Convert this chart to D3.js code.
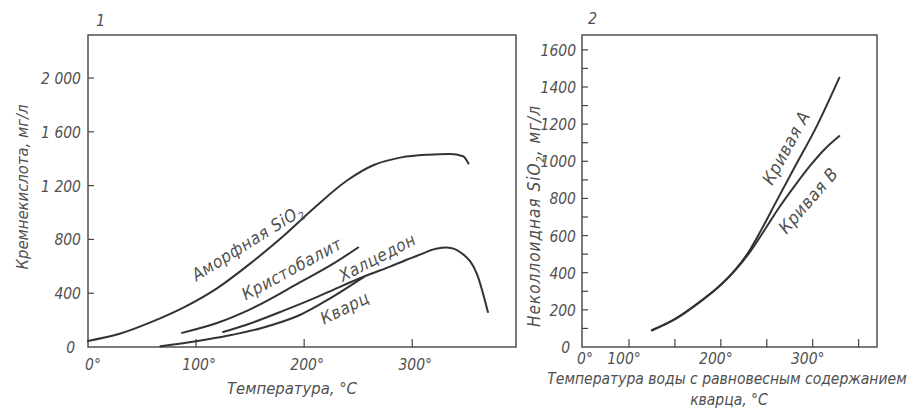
<!DOCTYPE html>
<html>
<head>
<meta charset="utf-8">
<script src="https://cdn.jsdelivr.net/npm/d3@7"></script>
<style>
  body { margin: 0; background: #fff; }
  text { font-family: "DejaVu Sans Condensed", "DejaVu Sans", sans-serif; font-style: italic; fill: #505050; }
</style>
</head>
<body>
<div id="chart"></div>
<script>
// Панель 1: растворимость форм кремнезёма, [температура °C, мг/л]
const amorphous = [[0,45],[30,100],[60,190],[90,300],[120,440],[150,620],[180,820],[210,1040],[240,1240],[265,1355],[290,1410],[315,1430],[335,1435],[347,1418],[352,1365]];
const cristobalite = [[87,105],[120,180],[150,280],[196,480],[225,610],[250,740]];
const chalcedony = [[125,111],[150,175],[181,270],[210,365],[231,440],[255,522],[280,600],[305,680],[322,730],[332,740],[347,690],[360,540],[370,260]];
const quartz = [[67,5],[100,42],[130,85],[160,140],[196,238],[224,362],[255,520]];

// Панель 2: кривые A и B
const curveA = [[125,90],[150,150],[175,235],[200,335],[215,412],[230,510],[245,640],[260,780],[280,965],[305,1195],[329,1450]];
const curveB = [[125,90],[150,150],[175,235],[200,335],[215,410],[230,500],[245,610],[264,755],[280,865],[297,975],[313,1065],[329,1136]];

const leftYTicks = [0, 400, 800, 1200, 1600, 2000];
const leftYLabels = ["0", "400", "800", "1 200", "1 600", "2 000"];
const leftXTicks = [0, 100, 200, 300];
const rightYTicks = [0, 200, 400, 600, 800, 1000, 1200, 1400, 1600];
const rightXTicks = [0, 100, 200, 300];

const width = 911, height = 417;
const svg = d3.select("#chart").append("svg").attr("width", width).attr("height", height);

const ink = "#333";

// ---- панель 1 ----
const x1 = d3.scaleLinear().domain([0, 396]).range([88, 516]);
const y1 = d3.scaleLinear().domain([0, 2320]).range([347, 35]);

// ---- панель 2 (ось X сжата на участке 0–100°) ----
const x2 = d3.scaleLinear().domain([0, 100, 370]).range([582, 629, 877]);
const y2 = d3.scaleLinear().domain([0, 1680]).range([347, 35]);

function frame(x, y) {
    svg.append("rect")
        .attr("x", x.range()[0]).attr("y", y.range()[1])
        .attr("width", x.range()[x.range().length - 1] - x.range()[0])
        .attr("height", y.range()[0] - y.range()[1])
        .attr("fill", "none").attr("stroke", "#444").attr("stroke-width", 1.4);
}
frame(x1, y1);
frame(x2, y2);

function tickAxes(x, y, xt, yt, xLen, yLen) {
    const g = svg.append("g").attr("stroke", "#444").attr("stroke-width", 1.2);
    g.selectAll(".xt").data(xt).enter().append("line")
        .attr("x1", d => x(d)).attr("x2", d => x(d))
        .attr("y1", y.range()[0]).attr("y2", y.range()[0] - xLen);
    g.selectAll(".yt").data(yt).enter().append("line")
        .attr("x1", x.range()[0]).attr("x2", x.range()[0] + yLen)
        .attr("y1", d => y(d)).attr("y2", d => y(d));
}
tickAxes(x1, y1, [100, 200, 300], [400, 800, 1200, 1600, 2000], 8, 6);
tickAxes(x2, y2, d3.range(100, 351, 50), d3.range(100, 1601, 100), 8, 6);

// подписи делений
svg.selectAll(".ly").data(leftYTicks).enter().append("text")
    .attr("x", d => d === 0 ? 75 : 81).attr("y", d => y1(d) + 6)
    .attr("text-anchor", "end").attr("font-size", 15.5)
    .text((d, i) => leftYLabels[i]);
svg.selectAll(".lx").data(leftXTicks).enter().append("text")
    .attr("x", d => x1(d) + (d === 0 ? 5 : 3)).attr("y", 370)
    .attr("text-anchor", "middle").attr("font-size", 15.5)
    .text(d => d + "°");
svg.selectAll(".ry").data(rightYTicks).enter().append("text")
    .attr("x", d => d === 0 ? 570 : 576).attr("y", d => y2(d) + 6)
    .attr("text-anchor", "end").attr("font-size", 15.5)
    .text(d => d);
svg.selectAll(".rx").data(rightXTicks).enter().append("text")
    .attr("x", d => x2(d) + (d === 0 ? 3 : -5)).attr("y", 364)
    .attr("text-anchor", "middle").attr("font-size", 15.5)
    .text(d => d + "°");

// номера панелей
svg.append("text").attr("x", 96).attr("y", 26).attr("font-size", 16).text("1");
svg.append("text").attr("x", 588).attr("y", 24).attr("font-size", 16).text("2");

// подписи осей
svg.append("text").attr("transform", "translate(28,187) rotate(-90)")
    .attr("text-anchor", "middle").attr("font-size", 16.5).text("Кремнекислота, мг/л");
svg.append("text").attr("x", 292).attr("y", 394)
    .attr("text-anchor", "middle").attr("font-size", 16.5).text("Температура, °C");

const ry = svg.append("text").attr("transform", "translate(540,216) rotate(-90)")
    .attr("text-anchor", "middle").attr("font-size", 17).attr("letter-spacing", 1);
ry.append("tspan").text("Неколлоидная   SiO");
ry.append("tspan").attr("font-size", 11).attr("dy", 4).text("2");
ry.append("tspan").attr("dy", -4).text(", мг/л");

svg.append("text").attr("x", 727).attr("y", 384)
    .attr("text-anchor", "middle").attr("font-size", 15.5)
    .text("Температура воды с равновесным содержанием");
svg.append("text").attr("x", 729).attr("y", 405)
    .attr("text-anchor", "middle").attr("font-size", 15.5)
    .text("кварца, °C");

// кривые
function drawCurve(data, x, y) {
    const line = d3.line()
        .x(d => x(d[0])).y(d => y(d[1]))
        .curve(d3.curveMonotoneX);
    svg.append("path").datum(data)
        .attr("d", line)
        .attr("fill", "none").attr("stroke", ink)
        .attr("stroke-width", 2).attr("stroke-linecap", "round");
}
drawCurve(amorphous, x1, y1);
drawCurve(cristobalite, x1, y1);
drawCurve(chalcedony, x1, y1);
drawCurve(quartz, x1, y1);
drawCurve(curveA, x2, y2);
drawCurve(curveB, x2, y2);

// подписи кривых
function curveLabel(x, y, t, v, angle, size, parts) {
    const txt = svg.append("text")
        .attr("transform", `translate(${x(t)},${y(v)}) rotate(${angle})`)
        .attr("text-anchor", "middle").attr("dy", 5)
        .attr("font-size", size).attr("letter-spacing", 0.6);
    parts.forEach(p => {
        const s = txt.append("tspan").text(p.t);
        if (p.sub) s.attr("font-size", 11).attr("dy", 4);
    });
}
curveLabel(x1, y1, 148, 770, -32, 17, [{ t: "Аморфная  SiO" }, { t: "2", sub: true }]);
curveLabel(x1, y1, 189, 575, -28.5, 17, [{ t: "Кристобалит" }]);
curveLabel(x1, y1, 268, 660, -27.5, 17, [{ t: "Халцедон" }]);
curveLabel(x1, y1, 238, 285, -26.5, 17, [{ t: "Кварц" }]);
curveLabel(x2, y2, 272, 1070, -61.5, 17.5, [{ t: "Кривая  А" }]);
curveLabel(x2, y2, 296, 785, -49, 17.5, [{ t: "Кривая  В" }]);
</script>
</body>
</html>
